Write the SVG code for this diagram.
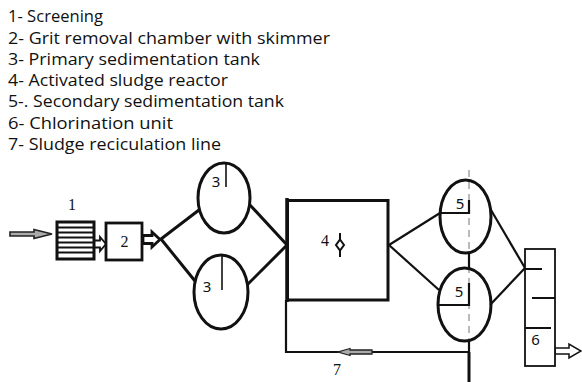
<svg xmlns="http://www.w3.org/2000/svg" width="582" height="382" viewBox="0 0 582 382">
<style>
.legend{font-family:"Open Sans","Noto Sans",sans-serif;font-size:17px;fill:#111}
.serif{font-family:"Liberation Serif","Times New Roman",serif;font-size:16px;fill:#111}
.sans{font-family:"Noto Sans","DejaVu Sans",sans-serif;font-size:15px;fill:#111}
.thick{fill:none;stroke:#111;stroke-width:3}
.mid{fill:none;stroke:#111;stroke-width:2.2}
.thin{fill:none;stroke:#111;stroke-width:1.6}
.hollow{fill:#fff;stroke:#111;stroke-width:1.8}
.grey{fill:#aaa;stroke:#222;stroke-width:1.6}
</style>
<rect width="582" height="382" fill="#fff"/>
<g id="legend">
<text class="legend" x="8" y="22" textLength="95" lengthAdjust="spacingAndGlyphs">1- Screening</text>
<text class="legend" x="8" y="43.5" textLength="322" lengthAdjust="spacingAndGlyphs">2- Grit removal chamber with skimmer</text>
<text class="legend" x="8" y="64.5" textLength="252" lengthAdjust="spacingAndGlyphs">3- Primary sedimentation tank</text>
<text class="legend" x="8" y="85.5" textLength="220" lengthAdjust="spacingAndGlyphs">4- Activated sludge reactor</text>
<text class="legend" x="8" y="107" textLength="276" lengthAdjust="spacingAndGlyphs">5-. Secondary sedimentation tank</text>
<text class="legend" x="8" y="128.5" textLength="165" lengthAdjust="spacingAndGlyphs">6- Chlorination unit</text>
<text class="legend" x="8" y="149.5" textLength="213" lengthAdjust="spacingAndGlyphs">7- Sludge reciculation line</text>
</g>
<g id="connectors">
<path class="grey" d="M10,232 L34,232 L34,229.5 L52,234 L34,238.5 L34,236 L10,236 Z"/>
<path class="hollow" d="M94,240.5 L100,240.5 L100,237 L106,244 L100,251 L100,247.5 L94,247.5 Z"/>
<path class="hollow" style="stroke-width:2.8" d="M143,235.5 L152,235.5 L152,232 L160,239.5 L152,247 L152,243.5 L143,243.5 Z"/>
<line class="thick" x1="161" y1="239" x2="199" y2="210"/>
<line class="thick" x1="161" y1="239" x2="195" y2="281"/>
<line class="thick" x1="250" y1="205" x2="287" y2="245"/>
<line class="thick" x1="247" y1="285" x2="287" y2="245"/>
<line class="mid" x1="389" y1="245" x2="440" y2="213"/>
<line class="mid" x1="389" y1="245" x2="439" y2="290"/>
<line class="mid" x1="491" y1="210" x2="525" y2="268"/>
<line class="mid" x1="490" y1="305" x2="525" y2="268"/>
<polyline class="mid" points="286,300 286,352 469,352"/>
<path class="grey" style="stroke-width:1.3" d="M372,350 L350,350 L350,348.5 L338,352 L350,355.5 L350,354 L372,354 Z"/>
<line stroke="#777" stroke-width="1" stroke-dasharray="7,5" x1="469" y1="170" x2="469" y2="382"/>
<line class="mid" x1="469" y1="253" x2="469" y2="268"/>
<line class="mid" x1="469" y1="341" x2="469" y2="352"/>
<line class="thick" x1="469" y1="352" x2="469" y2="382"/>
<path class="hollow" style="stroke-width:1.5" d="M555,348 L569,348 L569,344 L581,351 L569,358 L569,354 L555,354 Z"/>
</g>
<g id="n1">
<rect x="57" y="222" width="37" height="37" fill="#fff" stroke="#111" stroke-width="3"/>
<path class="mid" d="M57,227.5H94M57,232.5H94M57,237.5H94M57,242.5H94M57,247.5H94M57,252.5H94"/>
<text class="serif" x="72" y="210" text-anchor="middle">1</text>
</g>
<g id="n2">
<rect x="106" y="223" width="36" height="37" fill="#fff" stroke="#111" stroke-width="2.8"/>
<text class="serif" x="124.5" y="247" text-anchor="middle">2</text>
</g>
<g id="n3a">
<ellipse class="thick" cx="224" cy="198" rx="26" ry="35"/>
<line class="thin" x1="226" y1="162" x2="226" y2="187"/>
<text class="sans" x="216" y="187" text-anchor="middle">3</text>
</g>
<g id="n3b">
<ellipse class="thick" cx="221" cy="292" rx="27" ry="37"/>
<line class="thin" x1="222" y1="255" x2="222" y2="290"/>
<text class="sans" x="207" y="292" text-anchor="middle">3</text>
</g>
<g id="n4">
<rect x="287.5" y="200.5" width="100.5" height="99.5" fill="#fff" stroke="#111" stroke-width="3"/>
<line class="thick" x1="287" y1="198" x2="287" y2="302" style="stroke-width:3.5"/>
<text class="serif" x="325" y="246" text-anchor="middle">4</text>
<line stroke="#111" stroke-width="2" x1="340" y1="233" x2="340" y2="257"/>
<path d="M340,239.5 L344,245 L340,250.5 L336,245 Z" fill="#fff" stroke="#111" stroke-width="2"/>
</g>
<g id="n5a">
<ellipse class="thick" cx="465.5" cy="216.5" rx="25.5" ry="36.5"/>
<polyline class="mid" points="440,213 469,213 469,200"/>
<text class="sans" x="460" y="209" text-anchor="middle">5</text>
</g>
<g id="n5b">
<ellipse class="thick" cx="464.5" cy="304.5" rx="26.5" ry="36.5"/>
<polyline class="mid" points="438,305 469,305 469,283"/>
<text class="sans" x="459" y="297" text-anchor="middle">5</text>
</g>
<g id="n6">
<rect x="525" y="249" width="30" height="117" fill="#fff" stroke="#111" stroke-width="1.8"/>
<path class="mid" d="M525,269H542M532,298H555M525,328H551"/>
<text class="sans" x="535.5" y="345" text-anchor="middle">6</text>
</g>
<g id="l7">
<text class="serif" x="337" y="375" text-anchor="middle">7</text>
</g>
</svg>
